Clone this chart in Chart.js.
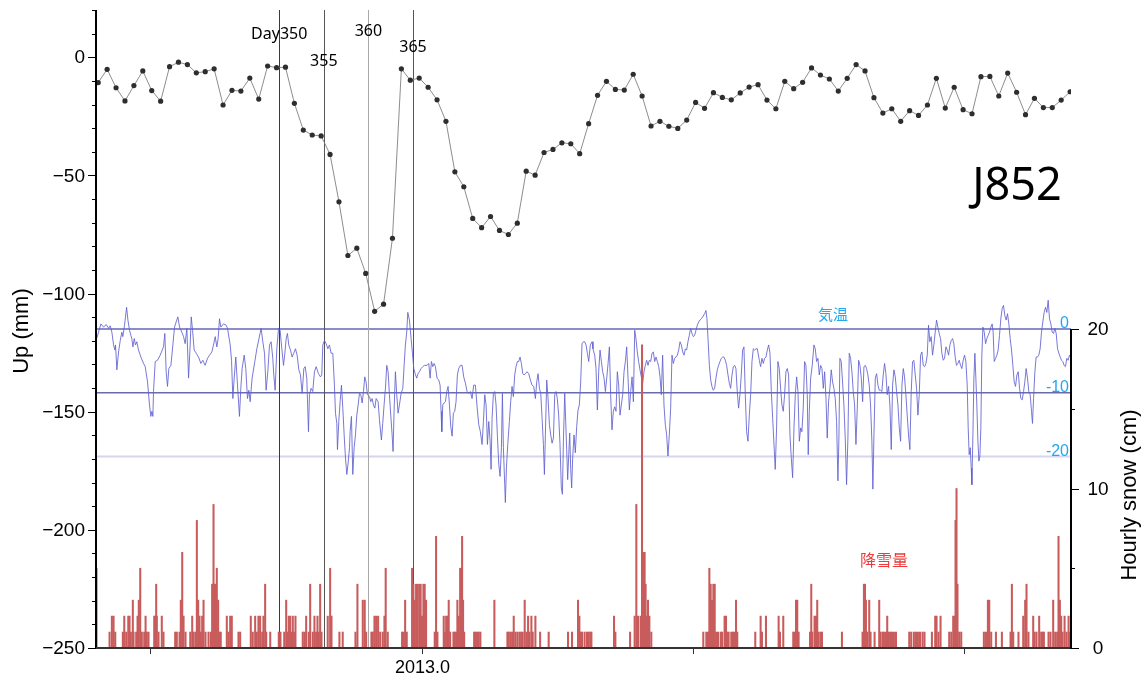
<!DOCTYPE html>
<html>
<head>
<meta charset="utf-8">
<script src="https://cdn.jsdelivr.net/npm/chart.js@4"></script>
<style>
  html, body { margin: 0; padding: 0; background: #fff; }
  canvas { display: block; }
</style>
</head>
<body>
<canvas id="c" width="1143" height="677"></canvas>
<script>
// ---- GPS daily vertical position (mm), one solution per day ----
const gpsFirstDay = 329.7;   // day-of-year 2012 (2013.0 = day 366)
const gpsUp = [
  -10.7, -5.1, -12.9, -18.5, -12.0, -5.8, -14.1, -18.6, -4.0, -2.1,
  -3.1, -6.6, -6.1, -4.9, -20.2, -14.0, -14.3, -8.8, -17.7, -3.7,
  -4.4, -4.2, -19.5, -30.8, -32.9, -33.3, -41.1, -61.2, -83.9, -80.8,
  -91.5, -107.5, -104.5, -76.6, -4.9, -9.7, -8.8, -12.7, -18.0, -27.1,
  -48.5, -54.8, -68.2, -72.1, -67.4, -73.3, -75.0, -70.2, -48.2, -49.9,
  -40.3, -39.0, -36.2, -36.6, -40.8, -28.1, -16.1, -10.2, -13.6, -13.9,
  -7.2, -16.4, -29.1, -27.1, -29.2, -30.1, -26.6, -19.1, -21.6, -15.0,
  -17.0, -18.0, -15.1, -12.6, -11.6, -18.1, -21.8, -10.2, -13.3, -10.6,
  -4.5, -7.5, -9.2, -14.3, -8.9, -3.1, -5.8, -17.1, -23.6, -21.8,
  -27.1, -22.6, -24.6, -20.2, -8.9, -21.5, -12.7, -22.2, -23.9, -8.2,
  -8.1, -16.4, -6.7, -14.8, -24.3, -17.4, -21.3, -21.3, -18.1, -14.6
];

// ---- air temperature (°C): [day, value] ----
const airTemp = [
  [329.55,-1.4],[330.0,0.8],[330.3,0.3],[330.6,0.7],[330.86,0.1],[331.04,0.5],[331.23,-0.5],[331.42,-2.5],
  [331.57,-3.3],[331.64,-2.5],[331.79,-6.4],[331.98,-3.6],[332.17,-1.8],[332.35,-0.5],[332.46,-1.2],[332.65,0.6],
  [332.88,3.4],[333.03,1.4],[333.21,-0.2],[333.36,-1.0],[333.47,-1.5],[333.59,-2.8],[333.74,-1.5],[333.88,-2.5],
  [334.03,-2.0],[334.22,-3.3],[334.48,-4.4],[334.78,-5.4],[334.97,-5.9],[335.23,-8.3],[335.45,-11.9],[335.6,-13.7],
  [335.72,-12.9],[335.83,-13.7],[335.9,-9.8],[336.09,-5.1],[336.35,-4.9],[336.65,-4.1],[337.02,-2.8],[337.17,-0.7],
  [337.32,-6.7],[337.47,-9.0],[337.62,-6.2],[337.85,-5.7],[338.07,-2.5],[338.26,0.3],[338.44,1.1],[338.63,1.9],
  [338.82,0.3],[339.08,-0.5],[339.27,-1.2],[339.45,-2.3],[339.64,0.1],[339.83,-7.7],[340.01,-2.5],[340.13,1.9],
  [340.28,-0.2],[340.46,-3.3],[340.69,-3.8],[340.95,-4.4],[341.21,-5.4],[341.43,-4.9],[341.69,-5.7],[341.96,-4.6],
  [342.18,-4.1],[342.44,-3.6],[342.63,-2.5],[342.82,-1.2],[343.0,-2.8],[343.15,-1.5],[343.3,1.6],[343.45,0.3],
  [343.75,0.8],[344.05,0.6],[344.2,0.1],[344.5,-2.5],[344.65,-4.9],[344.8,-10.9],[344.95,-7.7],[345.13,-4.4],
  [345.32,-8.8],[345.54,-13.7],[345.69,-9.3],[345.84,-6.2],[346.07,-4.1],[346.25,-6.2],[346.44,-10.9],[346.59,-9.6],
  [346.74,-11.4],[346.96,-7.7],[347.26,-5.1],[347.49,-3.1],
  [347.97,0.1],[348.16,-2.0],[348.35,-3.8],[348.53,-9.6],[348.72,-6.7],[348.91,-2.5],[349.09,-2.0],[349.28,-4.6],
  [349.39,-7.2],[349.54,-9.6],[349.73,-3.1],[349.92,0.1],[350.1,-0.2],[350.29,-3.1],[350.48,-5.7],[350.63,-3.8],
  [350.78,-1.5],[350.92,-0.7],[351.07,-2.5],[351.26,-3.3],[351.45,-4.4],[351.63,-3.8],[351.82,-3.1],[352.01,-4.1],
  [352.2,-6.4],[352.38,-7.2],[352.57,-10.1],[352.76,-6.2],[352.91,-5.9],[353.09,-7.7],[353.28,-16.1],[353.39,-10.3],
  [353.58,-9.3],[353.76,-9.8],[353.95,-6.7],[354.14,-5.9],[354.4,-7.0],[354.62,-7.5],[354.77,-7.2],[354.89,-2.5],
  [355.07,-1.8],[355.26,-2.3],[355.45,-3.1],[355.63,-2.5],[355.82,-3.8],[356.01,-3.8],[356.19,-8.8],[356.31,-13.2],
  [356.46,-14.8],[356.53,-18.9],[356.68,-14.5],[356.83,-11.4],[356.98,-8.8],[357.13,-12.4],[357.28,-16.6],[357.43,-20.2],
  [357.58,-22.8],[357.73,-21.0],[357.88,-18.6],[357.95,-16.1],[358.1,-13.7],[358.25,-22.8],[358.4,-18.6],[358.55,-16.6],
  [358.7,-13.5],[358.85,-11.9],[359.0,-10.1],[359.15,-10.3],[359.3,-11.6],[359.45,-9.8],[359.59,-7.5],[359.74,-8.3],
  [359.89,-10.3],[360.12,-10.6],[360.27,-11.4],[360.42,-10.9],[360.57,-11.9],[360.72,-12.4],[360.87,-10.9],[361.09,-11.4],
  [361.24,-14.2],[361.46,-17.4],[361.61,-14.8],[361.76,-11.9],[361.91,-9.3],[362.06,-5.7],[362.21,-6.7],[362.36,-10.3],
  [362.51,-13.5],[362.66,-16.6],[362.77,-19.2],[362.88,-12.9],[363.03,-6.7],[363.18,-10.3],[363.33,-13.2],[363.48,-11.9],
  [363.67,-10.1],[363.86,-9.3],[364.0,-5.9],[364.15,-2.5],[364.3,-0.5],[364.42,2.6],[364.6,1.4],[364.79,-1.5],
  [364.94,-3.8],[365.09,-6.2],[365.24,-7.0],[365.42,-7.7],[365.57,-7.0],[365.72,-6.7],[365.91,-6.2],[366.1,-5.9],
  [366.28,-5.7],
  [366.58,-5.7],[366.77,-5.4],[366.92,-7.7],[367.07,-5.1],[367.22,-5.9],[367.37,-5.4],[367.52,-5.9],[367.7,-7.7],
  [367.89,-8.0],[368.04,-8.8],[368.15,-12.9],[368.23,-16.1],[368.34,-11.9],[368.49,-11.6],[368.64,-11.4],[368.79,-9.8],
  [368.94,-9.0],[369.09,-11.9],[369.24,-15.3],[369.39,-16.8],[369.53,-13.2],[369.68,-12.9],[369.83,-11.4],[369.98,-7.2],
  [370.13,-6.2],[370.32,-5.7],[370.51,-5.7],[370.69,-7.5],[370.88,-8.5],[371.07,-9.8],[371.25,-10.1],[371.44,-9.8],
  [371.63,-10.9],[371.81,-8.8],[372.0,-8.8],[372.19,-12.2],[372.38,-15.0],[372.56,-16.1],[372.75,-18.1],[372.9,-14.5],
  [373.05,-10.3],[373.2,-11.9],[373.35,-18.1],[373.5,-14.5],[373.65,-17.6],[373.76,-22.0],[373.87,-14.0],[374.02,-10.1],
  [374.17,-9.8],[374.32,-11.9],[374.47,-16.8],[374.62,-21.2],[374.77,-23.1],[374.92,-18.6],[375.03,-10.1],[375.14,-18.6],
  [375.29,-24.4],[375.36,-27.2],[375.48,-21.8],[375.63,-18.1],[375.81,-14.5],[375.96,-11.4],[376.11,-9.0],[376.26,-10.6],
  [376.41,-7.2],[376.56,-5.9],[376.71,-5.1],[376.86,-5.1],[377.01,-4.4],[377.16,-5.4],[377.31,-7.0],[377.46,-7.2],
  [377.61,-7.0],[377.79,-6.7],[377.98,-7.0],[378.17,-8.0],[378.35,-8.8],[378.54,-9.0],[378.73,-10.9],[378.88,-8.3],
  [379.03,-7.0],[379.18,-9.3],[379.33,-10.1],[379.48,-14.0],[379.63,-18.1],[379.74,-22.8],[379.85,-16.6],[380.0,-8.0],
  [380.15,-10.9],[380.3,-15.0],[380.45,-16.6],[380.6,-17.9],[380.75,-17.1],[380.9,-10.3],[381.05,-9.8],[381.19,-10.9],
  [381.34,-13.5],[381.49,-18.1],[381.64,-24.9],[381.76,-25.9],[381.87,-17.6],[382.02,-10.1],[382.13,-14.5],[382.24,-18.9],
  [382.35,-23.6],[382.47,-19.7],[382.58,-16.3],[382.69,-22.0],[382.8,-24.9],[382.91,-20.2],[383.06,-16.6],[383.21,-19.4],
  [383.36,-15.3],[383.51,-12.7],[383.66,-11.9],[383.81,-8.3],[383.96,-2.3],[384.11,-2.0],[384.26,-2.0],[384.41,-2.5],
  [384.56,-3.8],[384.71,-5.1],[384.89,-2.5],[385.08,-2.0],
  [385.19,-3.1],[385.38,-4.1],[385.53,-6.2],[385.68,-12.7],[385.83,-6.7],[385.98,-3.3],[386.13,-5.1],[386.28,-6.7],
  [386.43,-7.7],[386.58,-9.8],[386.73,-7.7],[386.88,-5.4],[387.03,-2.8],[387.17,-10.3],[387.32,-15.8],[387.47,-12.9],
  [387.62,-12.2],[387.77,-12.9],[387.92,-6.7],[388.07,-8.8],[388.22,-13.5],[388.37,-11.9],[388.52,-10.3],[388.67,-6.7],
  [388.82,-5.1],[388.97,-2.8],[389.12,-7.7],[389.27,-12.7],[389.42,-9.8],[389.57,-7.5],[389.72,-11.4],[389.87,-0.2],
  [390.01,-1.5],[390.16,-3.6],[390.31,-5.1],[390.46,-6.4],[390.61,-7.5],[390.76,-8.5],[390.91,-6.7],[391.06,-5.7],
  [391.21,-4.9],[391.36,-5.7],[391.51,-4.9],[391.66,-5.1],[391.81,-3.8],[391.96,-3.6],[392.11,-5.1],[392.26,-4.4],
  [392.41,-5.1],[392.56,-5.9],[392.71,-7.5],[392.85,-10.3],[393.0,-4.1],[393.15,-11.9],[393.3,-15.0],[393.45,-16.6],
  [393.6,-19.9],[393.75,-16.6],[393.9,-12.4],[394.05,-4.1],[394.2,-5.4],[394.35,-4.6],[394.5,-4.4],[394.65,-4.1],
  [394.8,-3.3],[394.95,-2.0],[395.1,-2.5],[395.25,-3.6],[395.4,-4.1],[395.55,-3.1],[395.69,-3.3],[395.84,-2.0],
  [395.99,-1.0],[396.14,0.1],[396.29,-0.7],[396.44,-1.2],[396.59,-1.0],[396.74,-0.2],[396.89,0.6],[397.04,1.1],
  [397.19,1.4],[397.34,1.6],[397.49,1.9],[397.71,2.4],[397.86,2.9],[397.97,1.6],[398.09,-1.5],[398.24,-5.7],
  [398.39,-8.0],[398.53,-9.0],[398.68,-9.6],[398.83,-9.3],[398.98,-7.7],[399.13,-6.4],[399.28,-5.7],[399.43,-5.1],
  [399.58,-4.6],[399.73,-4.4],[399.88,-4.4],[400.03,-4.9],[400.18,-5.7],[400.33,-7.2],[400.48,-8.5],[400.63,-9.3],
  [400.78,-7.2],[400.93,-5.9],[401.08,-5.7],[401.22,-6.2],[401.37,-9.8],[401.52,-12.4],[401.67,-10.3],[401.82,-7.2],
  [401.97,-3.3],[402.12,-2.8],[402.27,-10.3],[402.42,-16.1],[402.57,-17.6],[402.72,-13.5],[402.87,-10.3],[403.02,-5.1],
  [403.17,-3.1],[403.32,-3.3],[403.47,-3.1],[403.62,-3.1],
  [403.69,-3.1],[403.84,-4.9],[403.99,-5.9],[404.14,-4.6],[404.29,-5.4],[404.44,-4.6],[404.59,-4.4],[404.74,-3.3],
  [404.89,-2.5],[405.04,-3.8],[405.19,-9.8],[405.34,-14.0],[405.49,-18.1],[405.63,-22.0],[405.78,-15.5],[405.93,-5.1],
  [406.08,-6.2],[406.23,-9.3],[406.38,-11.9],[406.53,-12.9],[406.68,-10.3],[406.83,-6.7],[406.98,-6.2],[407.13,-7.2],
  [407.28,-16.6],[407.43,-20.2],[407.58,-23.3],[407.73,-15.5],[407.88,-10.3],[408.03,-7.5],[408.18,-9.8],[408.33,-17.6],
  [408.48,-15.5],[408.62,-16.1],[408.77,-12.4],[408.92,-5.1],[409.07,-5.7],[409.22,-10.3],[409.33,-19.7],[409.45,-12.9],
  [409.6,-7.7],[409.78,-5.7],[409.97,-2.5],[410.12,-3.1],[410.27,-5.1],[410.42,-4.6],[410.57,-7.2],[410.72,-5.7],
  [410.87,-6.2],[411.02,-9.3],[411.17,-6.7],[411.32,-10.9],[411.46,-17.1],[411.61,-11.4],[411.76,-9.3],[411.91,-6.4],
  [412.06,-8.3],[412.21,-9.3],[412.36,-10.9],[412.51,-14.5],[412.66,-23.8],[412.77,-17.1],[412.88,-4.6],[413.03,-5.1],
  [413.18,-8.3],[413.33,-11.9],[413.48,-17.1],[413.63,-24.4],[413.78,-17.1],[413.93,-3.8],[414.08,-4.6],[414.23,-6.7],
  [414.38,-9.8],[414.53,-11.9],[414.68,-18.1],[414.83,-12.4],[414.98,-4.9],[415.13,-5.7],[415.28,-7.7],[415.43,-11.4],
  [415.58,-5.9],[415.73,-5.7],[415.87,-6.2],[416.02,-7.2],[416.17,-8.8],[416.32,-11.9],[416.47,-17.6],[416.58,-25.1],
  [416.7,-16.6],[416.85,-7.7],[417.0,-7.0],[417.15,-8.8],[417.29,-9.6],[417.44,-9.6],[417.59,-9.8],[417.74,-7.2],
  [417.89,-5.4],[418.04,-7.0],[418.19,-10.3],[418.34,-9.0],[418.49,-11.9],[418.64,-18.9],[418.79,-8.8],[418.94,-6.4],
  [419.09,-7.5],[419.24,-9.8],[419.39,-11.9],[419.54,-15.5],[419.69,-17.6],[419.84,-8.8],[419.99,-6.2],[420.13,-7.5],
  [420.28,-10.3],[420.43,-13.5],[420.58,-16.6],[420.73,-18.9],[420.88,-9.8],[421.03,-5.1],[421.18,-4.9],[421.33,-7.2],
  [421.48,-9.3],[421.63,-13.5],[421.78,-10.3],[421.93,-4.1],[422.08,-3.6],[422.23,-5.7],
  [422.38,-5.9],[422.53,-5.4],[422.68,-4.1],[422.82,0.6],[422.97,-2.0],[423.12,-1.2],[423.27,-4.1],[423.42,-2.5],
  [423.57,-0.5],[423.72,1.4],[423.87,0.3],[424.02,-0.7],[424.17,-1.5],[424.32,-3.8],[424.47,-4.9],[424.62,-4.6],
  [424.77,-2.8],[424.92,-3.3],[425.07,-4.1],[425.22,-2.5],[425.37,-1.8],[425.52,-1.5],[425.66,-2.3],[425.81,-4.4],
  [425.96,-5.7],[426.11,-5.4],[426.26,-4.9],[426.41,-5.7],[426.56,-6.2],[426.71,-4.9],[426.86,-4.1],[427.01,-5.1],
  [427.16,-8.8],[427.27,-15.5],[427.38,-19.7],[427.5,-18.6],[427.61,-21.8],[427.68,-24.4],[427.8,-16.6],[427.91,-7.7],
  [428.02,-3.8],[428.13,-7.7],[428.24,-11.9],[428.36,-17.6],[428.47,-20.7],[428.58,-19.9],[428.69,-15.5],[428.8,-4.1],
  [428.92,0.3],[429.07,-0.5],[429.22,-2.3],[429.36,-1.5],[429.51,-1.0],[429.66,-0.5],[429.81,0.3],[429.96,0.8],
  [430.07,-0.5],[430.19,-5.1],[430.34,-4.6],[430.49,-4.1],[430.63,-3.3],[430.78,-1.0],[430.93,1.6],[431.08,3.2],
  [431.23,3.7],[431.38,2.1],[431.53,1.4],[431.68,2.4],[431.83,0.8],[431.98,-1.5],[432.13,-3.3],[432.28,-5.7],
  [432.43,-8.3],[432.58,-9.0],[432.73,-7.2],[432.88,-6.7],[433.03,-9.3],[433.18,-10.9],[433.33,-11.1],[433.48,-9.8],
  [433.62,-8.3],[433.77,-6.2],[433.92,-7.7],[434.07,-9.8],[434.22,-10.3],[434.37,-12.9],[434.48,-14.8],[434.6,-10.9],
  [434.75,-6.7],[434.89,-4.4],[435.04,-4.4],[435.19,-4.1],[435.34,-3.1],[435.49,-0.5],[435.64,1.1],[435.79,2.6],
  [435.94,3.4],[436.09,2.6],[436.24,4.5],[436.39,1.6],[436.54,0.8],[436.69,-0.5],[436.84,-0.7],[436.99,0.1],
  [437.14,-0.7],[437.29,-3.1],[437.44,-3.8],[437.59,-4.4],[437.74,-4.9],[437.88,-5.1],[438.03,-5.7],[438.18,-5.9],
  [438.33,-4.6],[438.48,-4.9],[438.63,-4.1],[438.78,-4.4]
];

// ---- hourly snowfall (cm): [day, value], hours with snow only ----
const snowfall = [
  [329.51,5],[330.97,1],[331.23,2],[331.42,2],[331.61,1],[332.46,1],[332.62,2],[332.84,1],[333.07,2],[333.21,2],
  [333.36,1],[333.58,3],[333.66,1],[333.96,1],[334.11,2],[334.25,3],[334.41,5],[334.59,1],[334.86,1],[335.01,2],
  [335.15,1],[335.34,1],[335.98,2],[336.09,2],[336.2,4],[336.27,2],[336.46,1],[336.83,2],[337.02,1],[338.33,1],
  [338.51,1],[338.82,1],[338.96,3],[339.12,6],[339.27,2],[339.49,1],[340.02,1],[340.24,2],[340.39,1],[340.61,1],
  [340.76,8],[340.91,3],[341.06,2],[341.21,1],[341.36,2],[341.51,3],[341.73,1],[342.07,1],[342.33,1],[342.48,4],
  [342.55,4],[342.63,9],[342.74,4],[342.85,4],[343.0,5],[343.15,3],[343.3,1],[343.44,1],[344.12,2],[344.31,1],
  [344.5,2],[344.68,2],[345.43,1],[345.62,1],[346.81,2],[347.03,1],[347.3,2],[347.48,1],[347.67,2],[347.86,2],
  [348.09,1],[348.23,2],[348.42,4],[348.54,1],[348.99,1],[349.95,1],[350.14,1],[350.56,1],[350.78,3],[350.93,1],
  [351.07,2],[351.23,2],[351.37,1],[351.52,2],[351.68,1],[351.82,2],[352.64,1],[352.83,1],[353.02,2],[353.31,1],
  [353.47,4],[353.76,1],[353.95,2],[354.14,1],[354.29,2],[354.43,1],[354.59,4],[354.74,1],[355.44,2],[355.71,5],
  [355.86,2],[356.75,1],[357.12,1],[358.55,1],[358.77,4],[359.37,3],[359.59,3],[359.75,1],[360.34,1],[360.49,1],
  [360.68,2],[360.87,2],[361.09,2],[361.32,1],[361.61,1],[361.8,2],[361.94,5],[362.17,1],[363.78,1],[363.93,1],
  [364.12,3],[364.3,1],[364.9,5],[365.05,4],[365.19,3],[365.35,4],[365.53,4],[365.72,4],[365.86,4],[366.02,2],
  [366.17,4],[366.31,4],[366.47,3],
  [367.44,1],[367.59,7],[367.74,1],[368.45,2],[368.56,1],[368.72,2],[368.86,2],[369.01,3],[369.17,1],[369.54,1],
  [369.68,1],[369.84,1],[369.98,3],[370.13,2],[370.29,5],[370.4,5],[370.51,7],[370.62,3],[370.74,1],[371.86,1],
  [372.0,1],[372.19,1],[372.37,1],[372.56,1],[374.13,3],[375.59,1],[375.74,1],[375.93,1],[376.12,1],[376.3,2],
  [376.49,1],[376.71,1],[376.94,1],[377.13,1],[377.3,1],[377.53,3],[377.72,1],[377.91,2],[378.06,1],[378.28,2],
  [378.43,1],[378.73,2],[379.26,1],[380.22,1],[382.39,1],[382.84,1],[383.51,3],[383.66,2],[383.8,1],[383.96,1],
  [384.25,1],[384.52,1],[384.71,1],[384.89,1],[385.01,1],
  [387.55,2],[387.7,1],[389.35,1],[389.86,2],[390.05,9],[390.24,2],[390.53,2],[390.69,19],[390.84,6],[390.98,6],
  [391.09,4],[391.21,2],[391.36,3],[391.51,2],[391.73,1],[397.56,1],[397.9,1],[398.09,1],[398.24,5],[398.39,4],
  [398.54,3],[398.69,4],[398.84,4],[399.0,1],[399.21,1],[399.51,1],[399.67,1],[399.95,2],[400.11,2],[400.25,1],
  [400.4,1],[400.7,1],[400.89,1],[401.07,1],[401.23,3],[401.37,1],[403.39,1],
  [403.99,2],[404.14,1],[404.59,2],[406.01,2],[406.16,1],[406.53,2],[407.65,1],[407.8,1],[407.96,3],[408.1,3],
  [408.25,1],[409.53,1],[409.67,4],[409.78,1],[410.04,2],[410.2,2],[410.34,3],[410.49,1],[410.71,1],[410.87,1],
  [413.11,1],[415.42,1],[415.58,4],[415.69,4],[415.8,3],[415.95,1],[416.17,3],[416.32,1],[416.77,1],[417.29,3],
  [417.44,1],[417.67,1],[417.82,1],[418.05,1],[418.19,2],[418.38,1],[418.56,1],[418.72,1],[418.94,1],[419.17,1],
  [420.66,1],[420.88,1],[421.18,1],[421.41,1],[421.63,1],[421.86,1],[422.15,1],
  [422.37,1],[423.2,1],[423.57,2],[423.72,2],[423.94,1],[424.17,2],[425.14,1],[425.37,1],[425.59,2],[425.74,2],
  [425.85,8],[425.96,10],[426.07,4],[426.26,1],[426.49,1],[429.03,1],[429.26,1],[429.48,3],[429.63,3],[429.85,1],
  [430.38,1],[431.05,1],[432.02,1],[432.17,4],[432.32,1],[432.91,1],[433.44,2],[433.66,3],[433.81,4],[434.03,1],
  [434.56,2],[434.71,1],[434.93,1],[435.23,2],[435.46,1],[435.6,1],[435.76,1],[436.28,1],[436.5,1],[436.8,3],
  [437.03,1],[437.25,1],[437.4,7],[437.55,3],[437.7,2],[437.85,1],[438.08,2],[438.3,1],[438.53,2],[438.68,1]
];

// ---- axes, ticks and annotations ----
const dayRange = [329.45, 438.8];         // about 2012.9 .. 2013.2
const yearTicks = [335.5, 366, 396.42, 426.83];
const yearTickLabels = ['', '2013.0', '', ''];
const upTicks = [0, -50, -100, -150, -200, -250];
const snowTicks = [0, 10, 20];
const tempGuides = [0, -10, -20];
const tempGuideLabels = ['0', '-10', '-20'];
const markerDays = [350, 355, 360, 365];
const markerLabels = ['Day350', '355', '360', '365'];
const stationName = 'J852';
const tempName = '気温';
const snowName = '降雪量';

// drawing styles
const markerColors = ['#3a3a3a', '#555555', '#a8a8a8', '#555555'];
const markerLabelY = [34, 61, 31, 47];
const guideColors = ['#8c8ccc', '#6a6aae', '#d6d6ee'];
const guideWidths = [2, 1.5, 2];
const SANS = '"Liberation Sans", Arial, Helvetica, sans-serif';
const NOTO = '"Noto Sans", "Open Sans", sans-serif';
const CJK = '"Noto Sans CJK JP", "Noto Sans CJK SC", sans-serif';
const cyan = '#22a8ee';

const decor = {
  id: 'decor',
  beforeDatasetsDraw(chart) {
    const { ctx, chartArea: a, scales } = chart;
    ctx.save();
    // temperature guide lines
    tempGuides.forEach((t, i) => {
      const y = scales.yT.getPixelForValue(t);
      ctx.strokeStyle = guideColors[i];
      ctx.lineWidth = guideWidths[i];
      ctx.beginPath(); ctx.moveTo(a.left, y); ctx.lineTo(a.right, y); ctx.stroke();
    });
    // day markers
    markerDays.forEach((d, i) => {
      const x = Math.round(scales.x.getPixelForValue(d)) + 0.5;
      ctx.strokeStyle = markerColors[i];
      ctx.lineWidth = 1;
      ctx.beginPath(); ctx.moveTo(x, a.top); ctx.lineTo(x, a.bottom); ctx.stroke();
    });
    ctx.restore();
  },
  afterDatasetsDraw(chart) {
    const { ctx, chartArea: a, scales } = chart;
    const sx = scales.x, sy = scales.y, ss = scales.ySnow, st = scales.yT;
    ctx.save();

    // left axis (Up, mm)
    ctx.strokeStyle = '#000';
    ctx.lineWidth = 2;
    ctx.beginPath(); ctx.moveTo(a.left, a.top); ctx.lineTo(a.left, a.bottom + 1); ctx.stroke();
    ctx.lineWidth = 1;
    for (let v = -250; v <= 20; v += 10) {
      const y = Math.round(sy.getPixelForValue(v)) + 0.5;
      const len = v % 50 === 0 ? 8 : 4;
      ctx.beginPath(); ctx.moveTo(a.left - len, y); ctx.lineTo(a.left, y); ctx.stroke();
    }
    ctx.fillStyle = '#000';
    ctx.font = '19px ' + SANS;
    ctx.textAlign = 'right';
    ctx.textBaseline = 'middle';
    upTicks.forEach(v => {
      const txt = v < 0 ? '\u2212' + Math.abs(v) : String(v);
      ctx.fillText(txt, a.left - 11, sy.getPixelForValue(v) + 1);
    });

    // bottom axis (decimal year)
    ctx.strokeStyle = '#333';
    ctx.lineWidth = 2;
    ctx.beginPath(); ctx.moveTo(a.left, a.bottom); ctx.lineTo(a.right, a.bottom); ctx.stroke();
    ctx.lineWidth = 1;
    yearTicks.forEach((d, i) => {
      const x = Math.round(sx.getPixelForValue(d)) + 0.5;
      ctx.beginPath(); ctx.moveTo(x, a.bottom); ctx.lineTo(x, a.bottom + 6); ctx.stroke();
      if (yearTickLabels[i]) {
        ctx.fillStyle = '#000';
        ctx.font = '18px ' + SANS;
        ctx.textAlign = 'center';
        ctx.textBaseline = 'middle';
        ctx.fillText(yearTickLabels[i], x, a.bottom + 20);
      }
    });

    // right axis (hourly snow, cm)
    ctx.strokeStyle = '#000';
    ctx.lineWidth = 2;
    const yTop = ss.getPixelForValue(20);
    ctx.beginPath(); ctx.moveTo(a.right, yTop); ctx.lineTo(a.right, a.bottom + 1); ctx.stroke();
    ctx.lineWidth = 1;
    for (let v = 0; v <= 20; v += 5) {
      const y = Math.round(ss.getPixelForValue(v)) + 0.5;
      const len = v % 10 === 0 ? 8 : 4;
      ctx.beginPath(); ctx.moveTo(a.right, y); ctx.lineTo(a.right + len, y); ctx.stroke();
    }
    ctx.fillStyle = '#000';
    ctx.font = '19px ' + SANS;
    ctx.textAlign = 'center';
    ctx.textBaseline = 'middle';
    snowTicks.forEach(v => ctx.fillText(String(v), a.right + 27, ss.getPixelForValue(v) + 1));

    // axis titles
    ctx.font = '22px ' + SANS;
    ctx.save();
    ctx.translate(22, 331); ctx.rotate(-Math.PI / 2);
    ctx.fillText('Up (mm)', 0, 0);
    ctx.restore();
    ctx.save();
    ctx.translate(1130, 495); ctx.rotate(-Math.PI / 2);
    ctx.fillText('Hourly snow (cm)', 0, 0);
    ctx.restore();

    // temperature guide labels
    ctx.fillStyle = cyan;
    ctx.font = '16px ' + SANS;
    ctx.textAlign = 'right';
    ctx.textBaseline = 'middle';
    tempGuides.forEach((t, i) => {
      ctx.fillText(tempGuideLabels[i], a.right - 2, st.getPixelForValue(t) - 5);
    });

    // series names
    ctx.textAlign = 'center';
    ctx.font = '15px ' + CJK;
    ctx.fillStyle = cyan;
    ctx.fillText(tempName, 833, 314);
    ctx.font = '16px ' + CJK;
    ctx.fillStyle = '#ee3a3a';
    ctx.fillText(snowName, 884, 560);

    // day marker labels
    ctx.fillStyle = '#000';
    ctx.font = '16px ' + NOTO;
    markerDays.forEach((d, i) => {
      const x = sx.getPixelForValue(d);
      ctx.fillText(markerLabels[i], x, markerLabelY[i]);
    });

    // station name
    ctx.font = '45px ' + NOTO;
    ctx.fillText(stationName, 1017, 187);

    ctx.restore();
  }
};

new Chart(document.getElementById('c'), {
  type: 'line',
  data: {
    datasets: [
      {
        label: 'Up',
        yAxisID: 'y',
        data: gpsUp.map((v, i) => ({ x: gpsFirstDay + i, y: v })),
        borderColor: '#808080',
        borderWidth: 0.9,
        pointRadius: 2.6,
        pointBackgroundColor: '#2e2e2e',
        pointBorderWidth: 0,
        tension: 0,
        order: 0
      },
      {
        label: tempName,
        yAxisID: 'yT',
        data: airTemp.map(p => ({ x: p[0], y: p[1] })),
        borderColor: 'rgb(96,96,208)',
        borderWidth: 0.85,
        pointRadius: 0,
        tension: 0,
        order: 2
      },
      {
        type: 'bar',
        label: snowName,
        yAxisID: 'ySnow',
        data: snowfall.map(p => ({ x: p[0], y: p[1] })),
        backgroundColor: 'rgb(200,92,92)',
        borderWidth: 0,
        barThickness: 1.4,
        order: 1
      }
    ]
  },
  options: {
    responsive: false,
    devicePixelRatio: 1,
    animation: false,
    layout: { padding: { left: 96, right: 72, top: 10, bottom: 29 } },
    plugins: { legend: { display: false }, tooltip: { enabled: false } },
    scales: {
      x: { type: 'linear', min: dayRange[0], max: dayRange[1], offset: false, grid: { offset: false }, display: false },
      y: { type: 'linear', min: -250, max: 20, display: false },
      ySnow: { type: 'linear', min: 0, max: 40, display: false },
      yT: { type: 'linear', min: -50, max: 50, display: false }
    }
  },
  plugins: [decor]
});
</script>
</body>
</html>
